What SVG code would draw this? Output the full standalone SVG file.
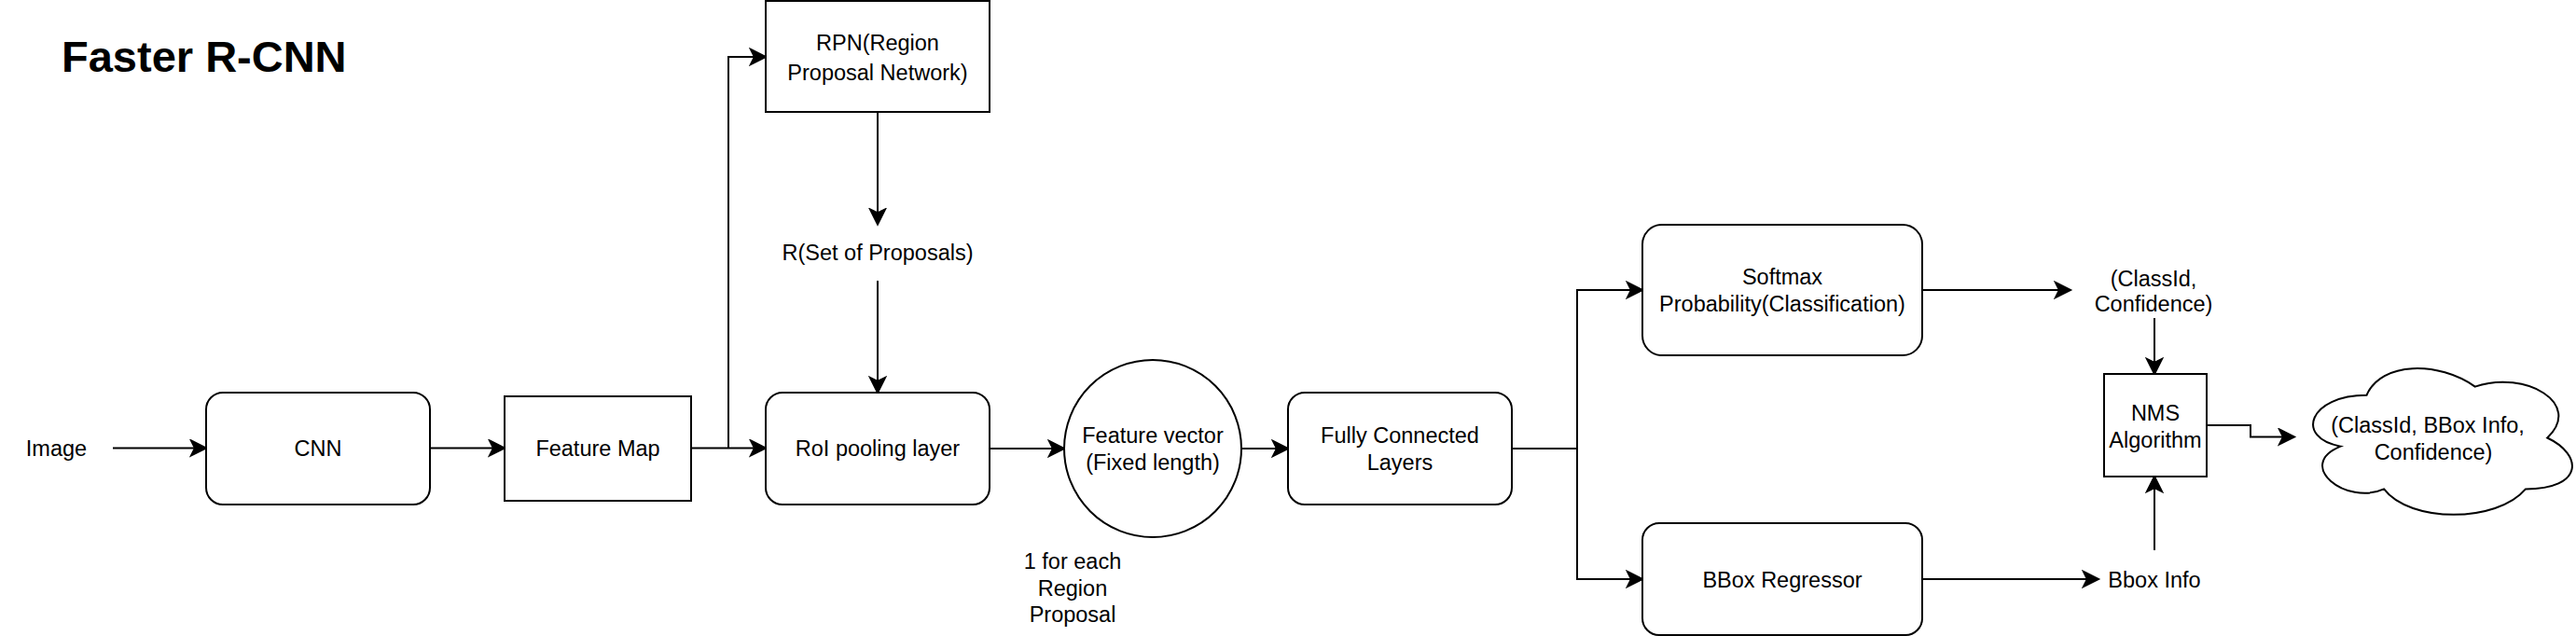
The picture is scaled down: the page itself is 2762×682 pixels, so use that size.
<svg xmlns="http://www.w3.org/2000/svg" width="2762" height="682" viewBox="0 0 2762 682">
<style>
  .n { fill: #ffffff; stroke: #000000; stroke-width: 2; }
  .t { font-family: "Liberation Sans", Arial, Helvetica, sans-serif; font-size: 23.5px; fill: #000000; text-anchor: middle; }
  .title { font-family: "Liberation Sans", Arial, Helvetica, sans-serif; font-size: 47px; font-weight: bold; fill: #000000; }
  .c { fill: none; stroke: #000000; stroke-width: 2; marker-end: url(#arr); }
</style>
<defs>
  <marker id="arr" viewBox="-2 -2 21 20" markerWidth="21" markerHeight="20" refX="16" refY="8" orient="auto" markerUnits="userSpaceOnUse">
    <path d="M0,0 L16,8 L0,16 L4,8 Z" fill="#000000" stroke="#000000" stroke-width="2" stroke-linejoin="miter"/>
  </marker>
</defs>
<rect width="2762" height="682" fill="#ffffff"/>
<text class="title" x="66" y="77">Faster R-CNN</text>

<g id="connectors">
  <path class="c" d="M121,480.5 H221"/>
  <path class="c" d="M461,480.5 H541"/>
  <path class="c" d="M741,480.5 H821"/>
  <path class="c" d="M781,480.5 V61 H821"/>
  <path class="c" d="M941,120 V240.5"/>
  <path class="c" d="M941,301 V421"/>
  <path class="c" d="M1061,481 H1141"/>
  <path class="c" d="M1331,481 H1381"/>
  <path class="c" d="M1621,481 H1691 V311 H1761"/>
  <path class="c" d="M1691,481 V621 H1761"/>
  <path class="c" d="M2061,311 H2220"/>
  <path class="c" d="M2310,341 V401"/>
  <path class="c" d="M2061,621 H2250"/>
  <path class="c" d="M2310,590 V511"/>
  <path class="c" d="M2366,456 H2413 V468.5 H2460"/>
</g>

<g id="image">
  <text class="t" x="60.5" y="489">Image</text>
</g>
<g id="cnn">
  <rect class="n" x="221" y="421" width="240" height="120" rx="18" ry="18"/>
  <text class="t" x="341" y="489">CNN</text>
</g>
<g id="feature-map">
  <rect class="n" x="541" y="425" width="200" height="112"/>
  <text class="t" x="641" y="489">Feature Map</text>
</g>
<g id="rpn">
  <rect class="n" x="821" y="1" width="240" height="119"/>
  <text class="t" x="941" y="54">RPN(Region</text>
  <text class="t" x="941" y="86">Proposal Network)</text>
</g>
<g id="proposals">
  <text class="t" x="941" y="279">R(Set of Proposals)</text>
</g>
<g id="roi-pooling">
  <rect class="n" x="821" y="421" width="240" height="120" rx="18" ry="18"/>
  <text class="t" x="941" y="489">RoI pooling layer</text>
</g>
<g id="feature-vector">
  <circle class="n" cx="1236" cy="481" r="95"/>
  <text class="t" x="1236" y="475">Feature vector</text>
  <text class="t" x="1236" y="504">(Fixed length)</text>
</g>
<g id="note">
  <text class="t" x="1150" y="610">1 for each</text>
  <text class="t" x="1150" y="638.5">Region</text>
  <text class="t" x="1150" y="667">Proposal</text>
</g>
<g id="fc">
  <rect class="n" x="1381" y="421" width="240" height="120" rx="18" ry="18"/>
  <text class="t" x="1501" y="475">Fully Connected</text>
  <text class="t" x="1501" y="504">Layers</text>
</g>
<g id="softmax">
  <rect class="n" x="1761" y="241" width="300" height="140" rx="21" ry="21"/>
  <text class="t" x="1911" y="305">Softmax</text>
  <text class="t" x="1911" y="334">Probability(Classification)</text>
</g>
<g id="bbox-regressor">
  <rect class="n" x="1761" y="561" width="300" height="120" rx="18" ry="18"/>
  <text class="t" x="1911" y="629.5">BBox Regressor</text>
</g>
<g id="classid">
  <text class="t" x="2309" y="306.5">(ClassId,</text>
  <text class="t" x="2309" y="334">Confidence)</text>
</g>
<g id="bbox-info">
  <text class="t" x="2310" y="629.5">Bbox Info</text>
</g>
<g id="nms">
  <rect class="n" x="2256" y="401" width="110" height="110"/>
  <text class="t" x="2311" y="450.5">NMS</text>
  <text class="t" x="2311" y="479.5">Algorithm</text>
</g>
<g id="result">
  <path class="n" d="M2537.5,423.75 C2475.5,423.75 2460,469.5 2509.6,478.65 C2460,498.78 2515.8,542.7 2556.1,524.4 C2584,561 2677,561 2708,524.4 C2770,524.4 2770,487.8 2731.25,469.5 C2770,432.9 2708,396.3 2653.75,414.6 C2615,387.15 2553,387.15 2537.5,423.75 Z"/>
  <text class="t" x="2603" y="464">(ClassId, BBox Info,</text>
  <text class="t" x="2609" y="492.5">Confidence)</text>
</g>
</svg>
